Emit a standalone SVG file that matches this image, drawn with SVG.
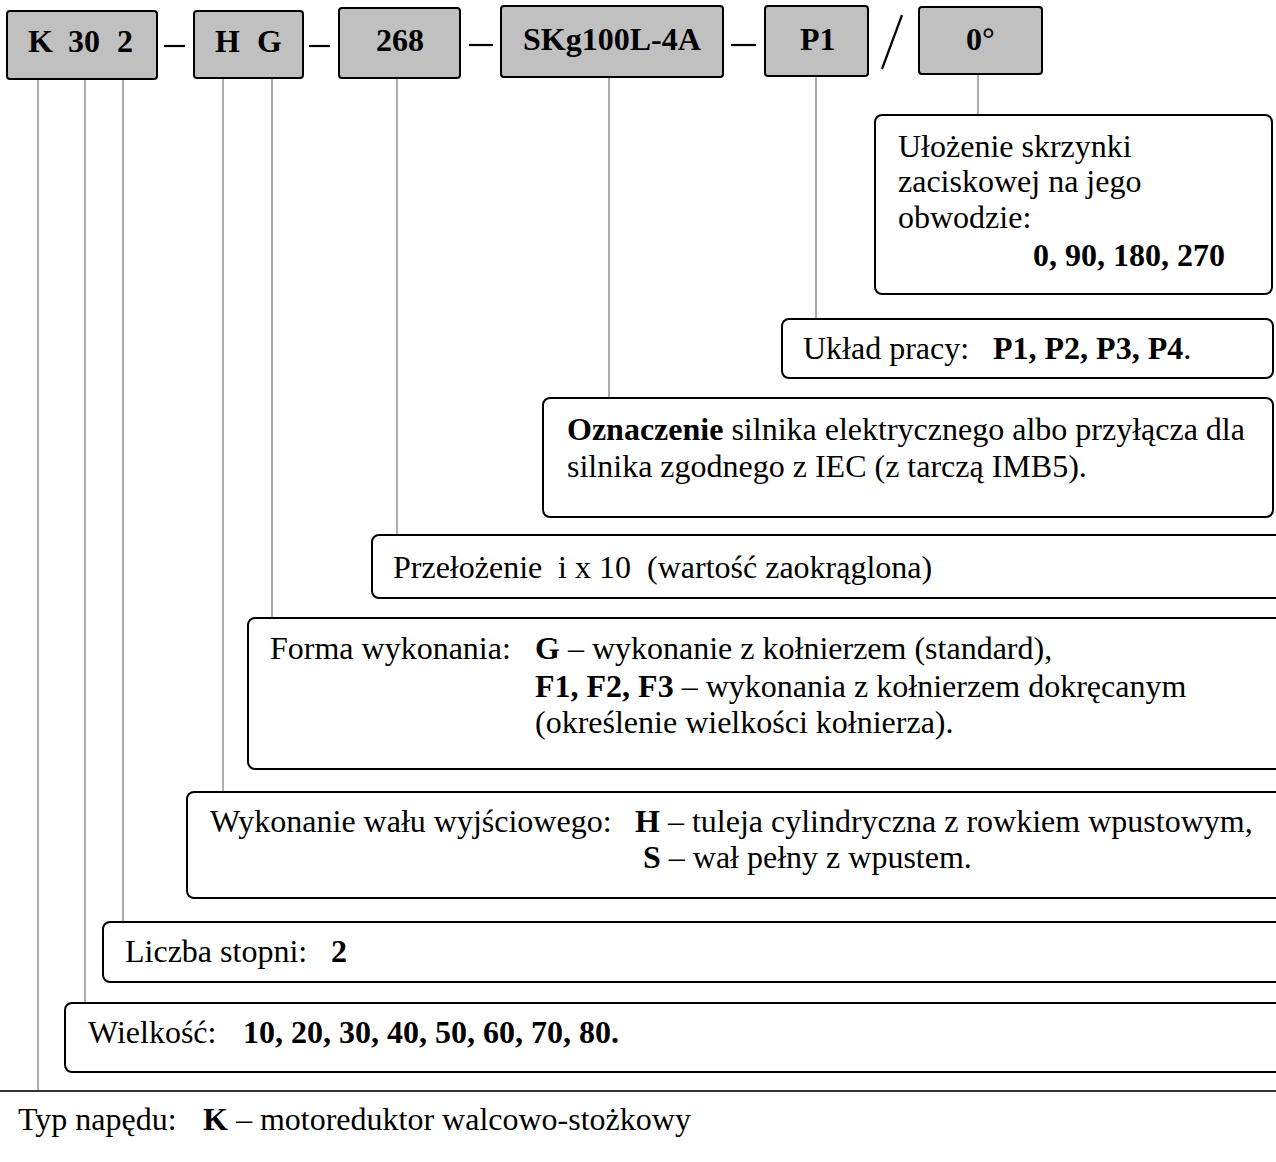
<svg xmlns="http://www.w3.org/2000/svg" width="1276" height="1162" viewBox="0 0 1276 1162">
<style>
.hb{fill:#c0c0c0;stroke:#000;stroke-width:2}
.db{fill:#fff;stroke:#000;stroke-width:2}
.ht{font-family:"Liberation Serif","Times New Roman",serif;font-size:32px;font-weight:bold;fill:#000}
.t{font-family:"Liberation Serif","Times New Roman",serif;font-size:32px;fill:#000}
.b{font-weight:bold}
.c{stroke:#808080;stroke-width:1.3;fill:none}
.sep{stroke:#000;stroke-width:2.2;fill:none}
</style>
<rect width="1276" height="1162" fill="#fff"/>

<g id="connectors">
<line class="c" x1="38" y1="79" x2="38" y2="1091"/>
<line class="c" x1="85" y1="79" x2="85" y2="1003"/>
<line class="c" x1="123" y1="79" x2="123" y2="922"/>
<line class="c" x1="223" y1="78" x2="223" y2="792"/>
<line class="c" x1="272" y1="78" x2="272" y2="618"/>
<line class="c" x1="397" y1="78" x2="397" y2="535"/>
<line class="c" x1="609" y1="77" x2="609" y2="398"/>
<line class="c" x1="816" y1="76" x2="816" y2="319"/>
<line class="c" x1="978" y1="74" x2="978" y2="115"/>
<line x1="0" y1="1091" x2="1276" y2="1091" stroke="#333" stroke-width="2"/>
</g>

<g id="separators">
<line class="sep" x1="164" y1="46" x2="185" y2="46"/>
<line class="sep" x1="309" y1="46" x2="330" y2="46"/>
<line class="sep" x1="469" y1="45" x2="493" y2="45"/>
<line class="sep" x1="731" y1="45" x2="756" y2="45"/>
<line class="sep" x1="902" y1="15" x2="882" y2="69"/>
</g>

<g id="h-k302">
<rect class="hb" x="7" y="11" width="150" height="68" rx="3"/>
<text class="ht" y="52"><tspan x="28">K</tspan><tspan x="68">30</tspan><tspan x="117">2</tspan></text>
</g>
<g id="h-hg">
<rect class="hb" x="194" y="11" width="109" height="67" rx="3"/>
<text class="ht" y="52"><tspan x="215">H</tspan><tspan x="257">G</tspan></text>
</g>
<g id="h-268">
<rect class="hb" x="339" y="8" width="121" height="70" rx="3"/>
<text class="ht" x="376" y="51">268</text>
</g>
<g id="h-motor">
<rect class="hb" x="501" y="6" width="222" height="71" rx="3"/>
<text class="ht" x="523" y="50">SKg100L-4A</text>
</g>
<g id="h-p1">
<rect class="hb" x="765" y="6" width="103" height="70" rx="3"/>
<text class="ht" x="800" y="50">P1</text>
</g>
<g id="h-0deg">
<rect class="hb" x="919" y="7" width="123" height="67" rx="3"/>
<text class="ht" x="966" y="50">0°</text>
</g>

<g id="d-ulozenie">
<rect class="db" x="875" y="115" width="397" height="179" rx="7"/>
<text class="t" x="898" y="157">Ułożenie skrzynki</text>
<text class="t" x="898" y="192">zaciskowej na jego</text>
<text class="t" x="898" y="228">obwodzie:</text>
<text class="t b" x="1033" y="266">0, 90, 180, 270</text>
</g>
<g id="d-uklad">
<rect class="db" x="782" y="319" width="491" height="59" rx="7"/>
<text class="t" y="359"><tspan x="803">Układ pracy:</tspan><tspan x="993" class="b">P1, P2, P3, P4</tspan><tspan>.</tspan></text>
</g>
<g id="d-oznaczenie">
<rect class="db" x="543" y="398" width="730" height="119" rx="7"/>
<text class="t" x="567" y="440"><tspan class="b">Oznaczenie</tspan> silnika elektrycznego albo przyłącza dla</text>
<text class="t" x="567" y="477">silnika zgodnego z IEC (z tarczą IMB5).</text>
</g>
<g id="d-przelozenie">
<rect class="db" x="372" y="535" width="930" height="63" rx="7"/>
<text class="t" y="578"><tspan x="393">Przełożenie</tspan><tspan x="558">i x 10</tspan><tspan x="647">(wartość zaokrąglona)</tspan></text>
</g>
<g id="d-forma">
<rect class="db" x="248" y="618" width="1054" height="151" rx="7"/>
<text class="t" y="659"><tspan x="270">Forma wykonania:</tspan><tspan x="535" class="b">G</tspan><tspan> – wykonanie z kołnierzem (standard),</tspan></text>
<text class="t" x="535" y="697"><tspan class="b">F1, F2, F3</tspan> – wykonania z kołnierzem dokręcanym</text>
<text class="t" x="535" y="733">(określenie wielkości kołnierza).</text>
</g>
<g id="d-wykonanie">
<rect class="db" x="187" y="792" width="1115" height="106" rx="7"/>
<text class="t" y="832"><tspan x="210">Wykonanie wału wyjściowego:</tspan><tspan x="635" class="b">H</tspan><tspan> – tuleja cylindryczna z rowkiem wpustowym,</tspan></text>
<text class="t" x="643" y="868"><tspan class="b">S</tspan> – wał pełny z wpustem.</text>
</g>
<g id="d-liczba">
<rect class="db" x="103" y="922" width="1199" height="60" rx="7"/>
<text class="t" y="962"><tspan x="125">Liczba stopni:</tspan><tspan x="331" class="b">2</tspan></text>
</g>
<g id="d-wielkosc">
<rect class="db" x="65" y="1003" width="1237" height="69" rx="7"/>
<text class="t" y="1043"><tspan x="88">Wielkość:</tspan><tspan x="243" class="b">10, 20, 30, 40, 50, 60, 70, 80.</tspan></text>
</g>
<g id="d-typ">
<text class="t" y="1130"><tspan x="18">Typ napędu:</tspan><tspan x="203" class="b">K</tspan><tspan> – motoreduktor walcowo-stożkowy</tspan></text>
</g>
</svg>
